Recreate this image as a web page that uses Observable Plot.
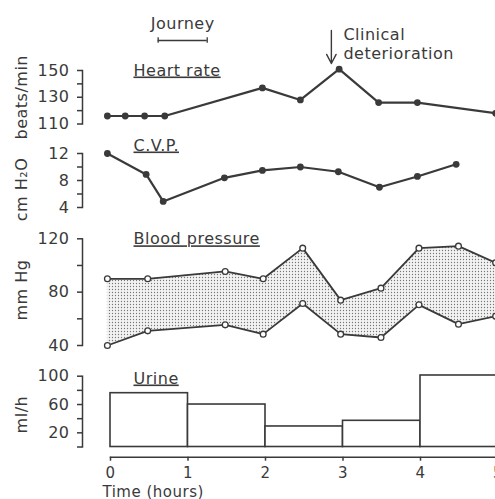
<!DOCTYPE html>
<html>
<head>
<meta charset="utf-8">
<script src="https://cdn.jsdelivr.net/npm/d3@7"></script>
<script src="https://cdn.jsdelivr.net/npm/@observablehq/plot@0.6"></script>
<style>
  body { margin: 0; background: white; }
  #chart { position: relative; width: 495px; height: 499px; overflow: hidden; }
  #chart svg { position: absolute; left: 0; letter-spacing: 0.5px; }
</style>
</head>
<body>
<div id="chart"></div>
<script>
// ---- data ----
const hrTime  = [-0.04, 0.19, 0.44, 0.70, 1.96, 2.45, 2.95, 3.46, 3.96, 4.97];
const hrValue = [116, 116, 116, 116, 137, 128, 151, 126, 126, 118];

const cvpTime  = [-0.04, 0.46, 0.68, 1.47, 1.96, 2.45, 2.94, 3.47, 3.96, 4.46];
const cvpValue = [12, 8.9, 4.9, 8.4, 9.5, 10.0, 9.3, 7.0, 8.6, 10.4];

const bpTime      = [-0.04, 0.48, 1.48, 1.97, 2.48, 2.97, 3.49, 3.98, 4.49, 4.97];
const bpSystolic  = [90, 90, 95.5, 90, 113, 74, 83, 113, 114.5, 102];
const bpDiastolic = [40, 51, 55.5, 48.5, 71.5, 48.5, 46, 70.5, 56, 62];

const urineStart = [0, 1, 2, 3, 4];
const urineEnd   = [1, 2, 3, 4, 5];
const urineRate  = [76, 60, 29, 37, 101];

const journey = [0.615, 1.248];
const deteriorationTime = 2.85;

const panelTitles = ["Heart rate", "C.V.P.", "Blood pressure", "Urine"];

const hrTicks = [110, 120, 130, 140, 150],  hrLabels = [110, 130, 150];
const cvpTicks = [4, 6, 8, 10, 12],         cvpLabels = [4, 8, 12];
const bpTicks = [40, 60, 80, 100, 120],     bpLabels = [40, 80, 120];
const urTicks = [0, 20, 40, 60, 80, 100],   urLabels = [20, 60, 100];
const timeTicks = [0, 1, 2, 3, 4, 5];

// ---- styling ----
const INK = "#3a3a3a";
const FONT = "DejaVu Sans";
const FS = 16;
const xScale = {domain: [0, 5], range: [110, 497.5]};
const baseStyle = {fontFamily: FONT, fontSize: FS + "px", color: INK, background: "none", overflow: "visible"};

function yAxis(ticks, labels) {
  return Plot.axisY({
    ticks, tickSize: 5, tickPadding: 8, fontSize: FS, stroke: INK, strokeWidth: 1.5,
    tickFormat: d => labels.includes(d) ? String(d) : "", label: null
  });
}
function title(text, dx, dy) {
  return Plot.text([text], {frameAnchor: "top-left", textAnchor: "start", lineAnchor: "bottom",
    dx, dy, fontSize: FS, fill: INK});
}
function yLabel(text, dx, dy) {
  return Plot.text([text], {frameAnchor: "left", rotate: -90, textAnchor: "middle", lineAnchor: "middle",
    dx, dy, fontSize: FS, fill: INK});
}

const chart = document.getElementById("chart");
function place(svg, top) {
  svg.style.top = top + "px";
  chart.appendChild(svg);
  d3.select(svg).selectAll("text")
    .filter(function () { return panelTitles.includes(this.textContent); })
    .style("text-decoration", "underline")
    .attr("text-decoration", "underline");
  return svg;
}

// ---- Heart rate ----
place(Plot.plot({
  width: 495, height: 135, marginLeft: 82, marginRight: 0, marginTop: 70, marginBottom: 11.5,
  style: baseStyle,
  x: {...xScale, axis: null},
  y: {domain: [110, 150], axis: null},
  marks: [
    yAxis(hrTicks, hrLabels),
    Plot.frame({anchor: "left", stroke: INK, strokeWidth: 1.5}),
    yLabel("beats/min", -61, 0),
    title(panelTitles[0], 51, 5),
    Plot.line(hrTime, {x: hrTime, y: hrValue, stroke: INK, strokeWidth: 2.2}),
    Plot.dot(hrTime, {x: hrTime, y: hrValue, r: 3.4, fill: INK}),
    // Journey annotation
    Plot.ruleY([150], {x1: journey[0], x2: journey[1], dy: -30, stroke: INK, strokeWidth: 1.3}),
    Plot.ruleX(journey, {x: d => d, y1: 150, y2: 150, dy: -30, insetTop: -2.7, insetBottom: -2.7, stroke: INK, strokeWidth: 1.3}),
    Plot.text(["Journey"], {x: (journey[0] + journey[1]) / 2, y: 150, dy: -42, lineAnchor: "bottom", fontSize: FS, fill: INK}),
    // Clinical deterioration annotation
    Plot.arrow([0], {x1: deteriorationTime, x2: deteriorationTime, y1: 180, y2: 155.2,
      stroke: INK, strokeWidth: 1.4, headLength: 11, headAngle: 55}),
    Plot.text(["Clinical"], {x: deteriorationTime, y: 150, dx: 12, dy: -31, textAnchor: "start", lineAnchor: "bottom", fontSize: FS, fill: INK}),
    Plot.text(["deterioration"], {x: deteriorationTime, y: 150, dx: 12, dy: -12, textAnchor: "start", lineAnchor: "bottom", fontSize: FS, fill: INK})
  ]
}), 0);

// ---- CVP ----
place(Plot.plot({
  width: 495, height: 90, marginLeft: 82, marginRight: 0, marginTop: 18, marginBottom: 18,
  style: baseStyle,
  x: {...xScale, axis: null},
  y: {domain: [4, 12], axis: null},
  marks: [
    yAxis(cvpTicks, cvpLabels),
    Plot.frame({anchor: "left", stroke: INK, strokeWidth: 1.5}),
    yLabel("cm H\u2082O", -61, 9),
    title(panelTitles[1], 51, -3),
    Plot.line(cvpTime, {x: cvpTime, y: cvpValue, stroke: INK, strokeWidth: 2.2}),
    Plot.dot(cvpTime, {x: cvpTime, y: cvpValue, r: 3.4, fill: INK})
  ]
}), 135);

// ---- Blood pressure ----
const bpSvg = place(Plot.plot({
  width: 495, height: 130, marginLeft: 82, marginRight: 0, marginTop: 13.3, marginBottom: 10,
  style: baseStyle,
  x: {...xScale, axis: null},
  y: {domain: [40, 120], axis: null},
  marks: [
    yAxis(bpTicks, bpLabels),
    Plot.frame({anchor: "left", stroke: INK, strokeWidth: 1.5}),
    yLabel("mm Hg", -61, -2),
    title(panelTitles[2], 51, 5.5),
    Plot.areaY(bpTime, {x: bpTime, y1: bpDiastolic, y2: bpSystolic, fill: "url(#stipple)"}),
    Plot.line(bpTime, {x: bpTime, y: bpSystolic, stroke: INK, strokeWidth: 1.8}),
    Plot.line(bpTime, {x: bpTime, y: bpDiastolic, stroke: INK, strokeWidth: 1.8}),
    Plot.dot(bpTime, {x: bpTime, y: bpSystolic, r: 2.9, fill: "white", stroke: INK, strokeWidth: 1.3}),
    Plot.dot(bpTime, {x: bpTime, y: bpDiastolic, r: 2.9, fill: "white", stroke: INK, strokeWidth: 1.3})
  ]
}), 225);
{
  const defs = d3.select(bpSvg).insert("defs", ":first-child");
  const pat = defs.append("pattern").attr("id", "stipple").attr("patternUnits", "userSpaceOnUse")
    .attr("width", 3).attr("height", 3);
  pat.append("rect").attr("width", 3).attr("height", 3).attr("fill", "#f3f3f3");
  pat.append("circle").attr("cx", 1.5).attr("cy", 1.5).attr("r", 0.65).attr("fill", "#777");
}

// ---- Urine ----
place(Plot.plot({
  width: 495, height: 95, marginLeft: 82, marginRight: 0, marginTop: 20.7, marginBottom: 3.5,
  style: baseStyle,
  x: {...xScale, axis: null},
  y: {domain: [0, 100], axis: null},
  marks: [
    yAxis(urTicks, urLabels),
    Plot.frame({anchor: "left", stroke: INK, strokeWidth: 1.5}),
    yLabel("ml/h", -61, 3),
    title(panelTitles[3], 51, 7.3),
    Plot.rect(urineRate, {x1: urineStart, x2: urineEnd, y1: 0, y2: urineRate, fill: "white", stroke: INK, strokeWidth: 1.6})
  ]
}), 355);

// ---- Time axis ----
place(Plot.plot({
  width: 495, height: 49, marginLeft: 110, marginRight: 0, marginTop: 0, marginBottom: 42.3,
  style: baseStyle,
  x: {...xScale, axis: null},
  marks: [
    Plot.axisX({ticks: timeTicks, tickSize: 4, tickPadding: 6, fontSize: 15, stroke: INK, strokeWidth: 1.5,
      tickFormat: d => String(d), label: null}),
    Plot.frame({anchor: "bottom", stroke: INK, strokeWidth: 1.5}),
    Plot.text(["Time (hours)"], {frameAnchor: "bottom-left", textAnchor: "start", lineAnchor: "bottom",
      dx: -8, dy: 39.3, fontSize: 15, fill: INK, letterSpacing: "1px"})
  ]
}), 450);
</script>
</body>
</html>
